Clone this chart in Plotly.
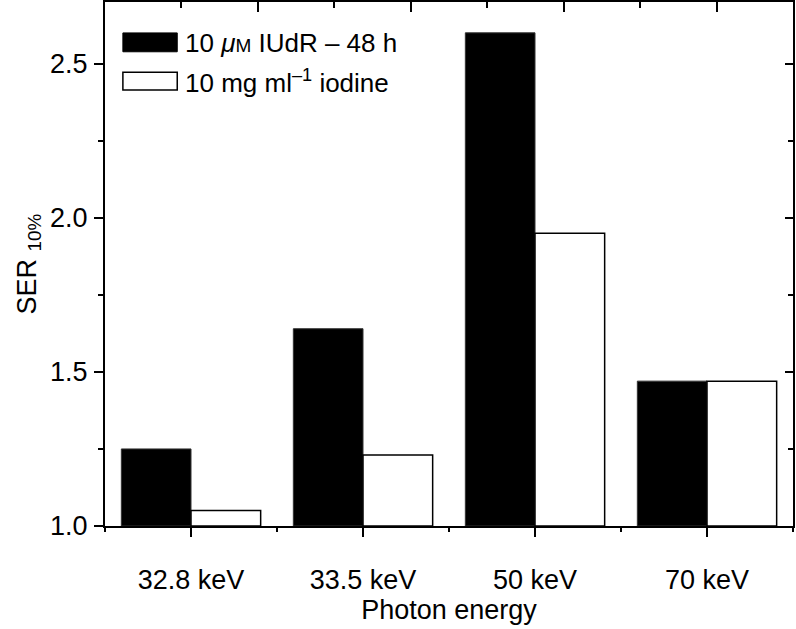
import plotly.graph_objects as go

categories = ["32.8 keV", "33.5 keV", "50 keV", "70 keV"]
iudr_values = [1.25, 1.64, 2.60, 1.47]
iodine_values = [1.05, 1.23, 1.95, 1.47]
series_names = ["10 <i>μ</i><span style='font-size:19px'>M</span> IUdR – 48 h",
                "10 mg ml<sup>–1</sup> iodine"]
y_ticks = [1.0, 1.5, 2.0, 2.5]

FONT = "Liberation Sans, Arial, Helvetica, sans-serif"

fig = go.Figure()
fig.add_trace(go.Bar(x=categories, y=[v - 1.0 for v in iudr_values], base=1.0,
                     name=series_names[0], marker=dict(color="black", line=dict(color="#333", width=1)),
                     showlegend=False))
fig.add_trace(go.Bar(x=categories, y=[v - 1.0 for v in iodine_values], base=1.0,
                     name=series_names[1], marker=dict(color="white", line=dict(color="black", width=1.5)),
                     showlegend=False))
# empty helper traces so the overlay (frame tick) axes are drawn
fig.add_trace(go.Scatter(x=[], y=[], xaxis="x2", yaxis="y", showlegend=False, hoverinfo="skip"))
fig.add_trace(go.Scatter(x=[], y=[], xaxis="x3", yaxis="y", showlegend=False, hoverinfo="skip"))
fig.add_trace(go.Scatter(x=[], y=[], xaxis="x", yaxis="y2", showlegend=False, hoverinfo="skip"))

# custom legend (wide swatches)
fig.add_shape(type="rect", xref="paper", yref="paper", x0=0.026, x1=0.105, y0=0.905, y1=0.941,
              fillcolor="black", line=dict(color="black", width=1))
fig.add_shape(type="rect", xref="paper", yref="paper", x0=0.026, x1=0.105, y0=0.832, y1=0.866,
              fillcolor="white", line=dict(color="black", width=1.5))
fig.add_annotation(xref="paper", yref="paper", x=0.114, y=0.922, text=series_names[0],
                   showarrow=False, xanchor="left", yanchor="middle", font=dict(size=26, color="black", family=FONT))
fig.add_annotation(xref="paper", yref="paper", x=0.114, y=0.848, text=series_names[1],
                   showarrow=False, xanchor="left", yanchor="middle", font=dict(size=26, color="black", family=FONT))

fig.update_layout(
    width=796, height=629,
    margin=dict(l=105, r=3, t=2, b=103, autoexpand=False),
    paper_bgcolor="white", plot_bgcolor="white",
    font=dict(family=FONT, size=27, color="black"),
    barmode="group", bargap=0.19, bargroupgap=0,
    xaxis=dict(type="category", showline=True, linecolor="black", linewidth=2, mirror=True,
               ticks="outside", ticklen=9, tickwidth=2, tickcolor="black",
               tickfont=dict(size=27), ticklabelstandoff=20, automargin=False,
               title=dict(text="Photon energy", font=dict(size=27), standoff=4),
               showgrid=False, zeroline=False),
    xaxis2=dict(overlaying="x", side="top", anchor="y", range=[0, 9], showline=False,
                ticks="inside", tickvals=[2, 4, 6, 8], ticklen=10, tickwidth=2, tickcolor="black",
                minor=dict(tickvals=[1, 3, 5, 7], ticks="inside", ticklen=6, tickwidth=2, tickcolor="black"),
                showticklabels=False, showgrid=False, zeroline=False, automargin=False),
    xaxis3=dict(overlaying="x", side="bottom", anchor="y", range=[-0.5, 3.5], showline=False,
                ticks="outside", tickvals=[-0.5, 0.5, 1.5, 2.5, 3.5], ticklen=5, tickwidth=2, tickcolor="black",
                showticklabels=False, showgrid=False, zeroline=False, automargin=False),
    yaxis=dict(range=[1.0, 2.7], showline=True, linecolor="black", linewidth=2, mirror=True,
               ticks="outside", tickvals=y_ticks, ticklen=9, tickwidth=2, tickcolor="black",
               tickformat=".1f", tickfont=dict(size=27), ticklabelstandoff=1, automargin=False,
               minor=dict(dtick=0.25, tick0=1.0, ticks="outside", ticklen=5, tickwidth=2, tickcolor="black", showgrid=False),
               title=dict(text="SER <sub>10%</sub>", font=dict(size=27), standoff=6),
               showgrid=False, zeroline=False),
    yaxis2=dict(overlaying="y", side="right", anchor="x", range=[1.0, 2.7], showline=False,
                ticks="inside", tickvals=y_ticks, ticklen=8, tickwidth=2, tickcolor="black",
                minor=dict(dtick=0.25, tick0=1.0, ticks="inside", ticklen=5, tickwidth=2, tickcolor="black", showgrid=False),
                showticklabels=False, showgrid=False, zeroline=False, automargin=False),
)

fig.write_html("out.html", config={"displayModeBar": False},
               post_script="document.body.style.margin='0';document.body.style.overflow='hidden';")
